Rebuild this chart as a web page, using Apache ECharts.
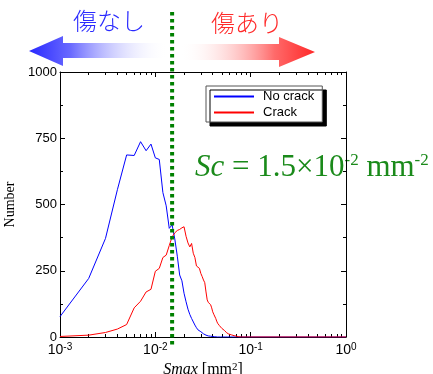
<!DOCTYPE html>
<html>
<head>
<meta charset="utf-8">
<script src="https://cdn.jsdelivr.net/npm/echarts@6/dist/echarts.min.js"></script>
<style>
  html, body { margin: 0; padding: 0; background: #fff; }
  #main { width: 433px; height: 374px; }
</style>
</head>
<body>
<div id="main"></div>
<script>
// Smax bins [mm^2]
var sMax = [
  0.001, 0.002, 0.003, 0.004, 0.005, 0.006, 0.007, 0.008, 0.009, 0.010,
  0.011, 0.012, 0.013, 0.014, 0.015, 0.016, 0.017, 0.018, 0.019, 0.020,
  0.021, 0.022, 0.023, 0.024, 0.025, 0.026, 0.027, 0.028, 0.029, 0.030,
  0.031, 0.032, 0.033, 0.034, 0.035, 0.036, 0.037, 0.038, 0.039, 0.040,
  0.041, 0.042, 0.043, 0.044, 0.045, 0.046, 0.047, 0.048, 0.049, 0.050,
  0.051, 0.052, 0.053, 0.054, 0.055, 0.056, 0.057, 0.058, 0.059, 0.060,
  0.061, 0.062, 0.063, 0.064, 0.065, 0.066, 0.067, 0.068, 0.069, 0.070,
  0.071, 0.072, 0.073, 0.074, 0.075, 0.076, 0.077, 0.078, 0.079, 0.080,
  1
];
// No crack (blue)
var noCrack = [
  77, 221, 372, 556, 687, 685, 737, 703, 728, 676,
  670, 545, 495, 410, 423, 370, 305, 234, 212, 165,
  133, 105, 85, 70, 77, 45, 35, 27, 24, 20,
  18, 12, 10, 7, 5, 4, 3, 3, 2, 2,
  1, 1, 0, 0, 0, 0, 0, 0, 0, 0,
  0, 0, 0, 0, 0, 0, 0, 0, 0, 0,
  0, 0, 0, 0, 0, 0, 0, 0, 0, 0,
  0, 0, 0, 0, 0, 0, 0, 0, 0, 0,
  0
];
// Crack (red)
var crack = [
  2, 7, 17, 30, 47, 110, 135, 170, 180, 248,
  259, 300, 309, 345, 378, 393, 402, 406, 412, 416,
  380, 355, 340, 353, 316, 300, 268, 262, 259, 240,
  228, 215, 205, 170, 140, 130, 126, 122, 110, 95,
  86, 80, 70, 60, 52, 47, 43, 40, 36, 32,
  29, 27, 25, 22, 19, 16, 14, 12, 11, 10,
  9, 9, 8, 7, 6, 5, 5, 4, 4, 3,
  3, 2, 2, 1, 1, 1, 0, 0, 0, 0,
  0
];
var majorTicks = [0.001, 0.01, 0.1, 1];
var minorMult = [2, 3, 4, 5, 6, 7, 8, 9];
var sc = 0.015;

var minorTicks = [];
[0.001, 0.01, 0.1].forEach(function (d) {
  minorMult.forEach(function (m) { minorTicks.push(m * d); });
});

function pairs(ys) {
  return sMax.map(function (x, i) { return [x, ys[i]]; });
}

var serif = 'Liberation Serif';
var sans = 'Liberation Sans';

function xAxisCfg(pos, ticks, len, showLine, showLabel) {
  return {
    type: 'log', logBase: 10, min: 0.001, max: 1, position: pos, gridIndex: 0,
    axisLine: { show: showLine, onZero: false, lineStyle: { color: '#000', width: 1 } },
    axisTick: { show: true, inside: true, length: len, customValues: ticks, lineStyle: { color: '#000' } },
    axisLabel: {
      show: showLabel, customValues: majorTicks, margin: 5,
      formatter: function (v) { return '{b|10}{s|' + Math.round(Math.log10(v)) + '}'; },
      rich: {
        b: { fontFamily: sans, fontSize: 14, color: '#000' },
        s: { fontFamily: sans, fontSize: 10, color: '#000', verticalAlign: 'top', padding: [0, 0, 6, 0] }
      }
    },
    splitLine: { show: false }
  };
}

function yAxisCfg(pos, showLabel) {
  return {
    type: 'value', min: 0, max: 1000, interval: 250, position: pos,
    axisLine: { show: true, lineStyle: { color: '#000', width: 1 } },
    axisTick: { show: true, inside: true, length: 5, lineStyle: { color: '#000' } },
    minorTick: { show: true, splitNumber: 2, length: 3, lineStyle: { color: '#000' } },
    axisLabel: { show: showLabel, fontFamily: sans, fontSize: 13, color: '#000', margin: 3,
      formatter: function (v) { return String(v); } },
    splitLine: { show: false }
  };
}

var chart = echarts.init(document.getElementById('main'), null, { renderer: 'canvas' });

var xBottom = xAxisCfg('bottom', majorTicks, 5, true, true);
xBottom.name = '{it|Smax} [mm{s|2}]';
xBottom.nameLocation = 'middle';
xBottom.nameGap = 21;
xBottom.nameTextStyle = {
  fontFamily: serif, fontSize: 16, color: '#000',
  rich: {
    it: { fontFamily: serif, fontSize: 16, fontStyle: 'italic', color: '#000' },
    s: { fontFamily: serif, fontSize: 11, color: '#000', verticalAlign: 'top' }
  }
};
var yLeft = yAxisCfg('left', true);
yLeft.name = 'Number';
yLeft.nameLocation = 'middle';
yLeft.nameGap = 36;
yLeft.nameTextStyle = { fontFamily: serif, fontSize: 14, color: '#000' };

var option = {
  backgroundColor: '#fff',
  animation: false,
  grid: { left: 60, right: 87, top: 72, bottom: 37, containLabel: false, outerBoundsMode: 'none' },
  legend: {
    orient: 'vertical', left: 206, top: 86,
    itemWidth: 40, itemHeight: 13, itemGap: 3,
    padding: [4, 8, 3, 7],
    backgroundColor: '#fff', borderColor: '#555', borderWidth: 1,
    shadowColor: '#000', shadowBlur: 0, shadowOffsetX: 4, shadowOffsetY: 4,
    itemStyle: { opacity: 0 },
    textStyle: { fontFamily: sans, fontSize: 13, color: '#000', padding: [0, 0, 0, 4] },
    data: ['No crack', 'Crack']
  },
  xAxis: [
    xBottom,
    xAxisCfg('bottom', minorTicks, 3, false, false),
    xAxisCfg('top', majorTicks, 5, true, false),
    xAxisCfg('top', minorTicks, 3, false, false)
  ],
  yAxis: [yLeft, yAxisCfg('right', false)],
  series: [
    { name: 'No crack', type: 'line', data: pairs(noCrack), symbol: 'none',
      lineStyle: { color: '#0000ff', width: 1 }, itemStyle: { color: '#0000ff' } },
    { name: 'Crack', type: 'line', data: pairs(crack), symbol: 'none',
      lineStyle: { color: '#ff0000', width: 1 }, itemStyle: { color: '#ff0000' } }
  ]
};
chart.setOption(option);

var scX = chart.convertToPixel({ xAxisIndex: 0 }, sc);

chart.setOption({
  graphic: [
    {
      type: 'polygon', z: 10,
      shape: { points: [[29, 51], [63, 36], [63, 43], [168, 43], [168, 58], [63, 58], [63, 66]] },
      style: { fill: new echarts.graphic.LinearGradient(0, 0, 1, 0, [
        { offset: 0, color: '#2828ff' }, { offset: 0.3, color: '#6a6aff' },
        { offset: 1, color: 'rgba(255,255,255,0)' }]) }
    },
    {
      type: 'polygon', z: 10,
      shape: { points: [[180, 44], [279, 44], [279, 37], [315, 52], [279, 67], [279, 60], [180, 60]] },
      style: { fill: new echarts.graphic.LinearGradient(0, 0, 1, 0, [
        { offset: 0, color: 'rgba(255,255,255,0)' }, { offset: 0.7, color: '#ff6a6a' },
        { offset: 1, color: '#ff2828' }]) }
    },
    {
      type: 'text', left: 73, top: 9, z: 10,
      style: { text: '傷なし', font: '300 24px "Noto Sans CJK JP"', fill: '#2a2aff' }
    },
    {
      type: 'text', left: 211, top: 11, z: 10,
      style: { text: '傷あり', font: '300 24px "Noto Sans CJK JP"', fill: '#ff2a2a' }
    },
    {
      type: 'line', z: 20,
      shape: { x1: scX, y1: 12, x2: scX, y2: 346 },
      style: { stroke: '#008000', lineWidth: 4, lineDash: [3.5, 3.5] }
    },
    {
      type: 'text', left: 195, top: 152, z: -1,
      style: {
        text: '{it|Sc} = 1.5×10{s|-2} mm{s|-2}',
        fill: '#1a8a1a',
        font: '31px "' + serif + '"',
        rich: {
          it: { fontFamily: serif, fontSize: 31, fontStyle: 'italic', fill: '#1a8a1a' },
          s: { fontFamily: serif, fontSize: 17, fill: '#1a8a1a', verticalAlign: 'top' }
        }
      }
    }
  ]
});
</script>
</body>
</html>
